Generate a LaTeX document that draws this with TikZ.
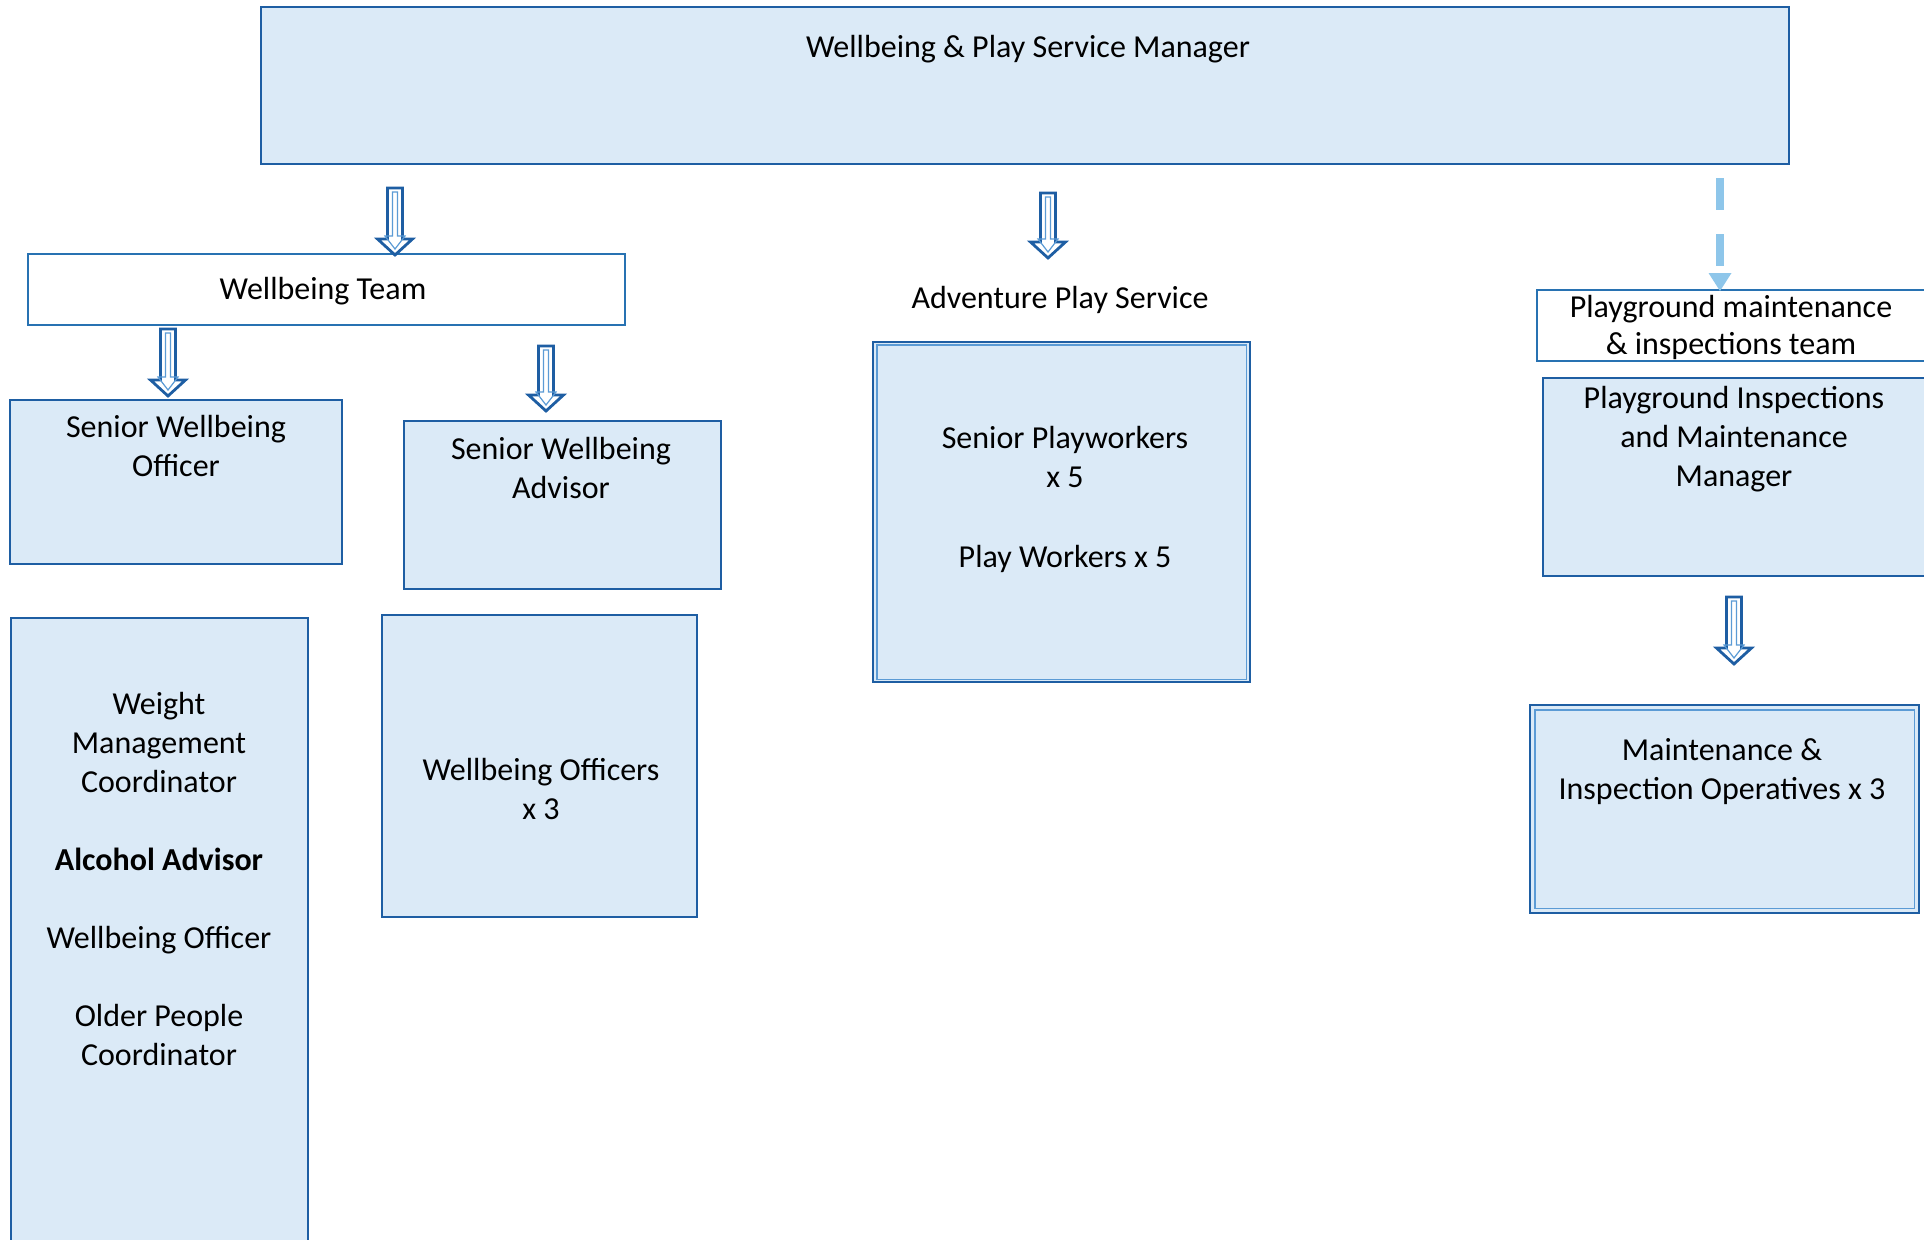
\documentclass[tikz,border=0pt]{standalone}
\usepackage{fontspec}
\setmainfont{Carlito}
\usetikzlibrary{calc}
\definecolor{boxfill}{RGB}{219,234,247}
\definecolor{dblue}{RGB}{30,94,163}
\definecolor{mblue}{RGB}{40,114,178}
\definecolor{lblue}{RGB}{91,155,213}
\definecolor{dashblue}{RGB}{142,198,234}
\begin{document}
\begin{tikzpicture}[x=1pt,y=-1pt,
  bx/.style={draw=dblue, fill=boxfill, line width=2.5pt, inner sep=0pt},
  wbx/.style={draw=mblue, fill=white, line width=2.5pt, inner sep=0pt},
  txt/.style={font=\fontsize{32}{39}\selectfont, align=center, inner sep=0pt, text=black},
  innerline/.style={draw=lblue, line width=1.5pt},
  blockarr/.style={draw=dblue, fill=white, line width=2.8pt, line join=miter,
    to path={let \p1=(\tikztostart), \p2=(\tikztotarget) in
      ({\x1-7.5pt},\y1) -- ({\x1+7.5pt},\y1) -- ({\x1+7.5pt},{\y2+16pt}) -- ({\x1+17.5pt},{\y2+16pt})
      -- (\x2,\y2) -- ({\x1-17.5pt},{\y2+16pt}) -- ({\x1-7.5pt},{\y2+16pt}) -- cycle}},
  blockin/.style={draw=lblue, line width=1.2pt, line join=miter,
    to path={let \p1=(\tikztostart), \p2=(\tikztotarget) in
      ({\x1-2.5pt},{\y1-4pt}) -- ({\x1+2.5pt},{\y1-4pt}) -- ({\x1+2.5pt},{\y2+19pt}) -- ({\x1+10pt},{\y2+19pt})
      -- (\x2,{\y2+6pt}) -- ({\x1-10pt},{\y2+19pt}) -- ({\x1-2.5pt},{\y2+19pt}) -- cycle}}]
\useasboundingbox (0,0) rectangle (1924,1239);
\clip (0,0) rectangle (1924,1239);

% boxes
\node[bx, minimum width=1528pt, minimum height=157pt] (mgr) at (1025,85.5) {};
\node[wbx, minimum width=597pt, minimum height=71pt] (wteam) at (326.5,289.5) {};
\node[bx, minimum width=332pt, minimum height=164pt] (swo) at (176,482) {};
\node[bx, minimum width=317pt, minimum height=168pt] (swa) at (562.5,505) {};
\node[bx, minimum width=315pt, minimum height=302pt] (wo) at (539.5,766) {};
\node[bx, minimum width=297pt, minimum height=642pt] (left) at (159.5,939) {};
\node[bx, minimum width=377pt, minimum height=340pt] (adv) at (1061.5,512) {};
\draw[innerline] ([shift={(5,4)}]adv.north west) rectangle ([shift={(-5,-4)}]adv.south east);
\node[wbx, minimum width=433pt, minimum height=71pt] (pteam) at (1753.5,325.5) {};
\node[bx, minimum width=427pt, minimum height=198pt] (pim) at (1756.5,477) {};
\node[bx, minimum width=389pt, minimum height=208pt] (mio) at (1724.5,809) {};
\draw[innerline] ([shift={(6,6)}]mio.north west) rectangle ([shift={(-6,-6)}]mio.south east);

% texts
\node[txt] (tmgr) at (1028,49) {Wellbeing \& Play Service Manager};
\node[txt] (twteam) at (323,291) {Wellbeing Team};
\node[txt] (tswo) at (176,446) {Senior Wellbeing\\Officer};
\node[txt] (tswa) at (561,468) {Senior Wellbeing\\Advisor};
\node[txt] (two) at (541,788.5) {Wellbeing Officers\\x 3};
\node[txt] (tleft) at (159,878.5) {Weight\\Management\\Coordinator\\[39pt]\textbf{Alcohol Advisor}\\[39pt]Wellbeing Officer\\[39pt]Older People\\Coordinator};
\node[txt] (taps) at (1060,300) {Adventure Play Service};
\node[txt] (tadv) at (1065,499.5) {Senior Playworkers\\x 5\\[41pt]Play Workers x 5};
\node[txt, font=\fontsize{32}{37}\selectfont] (tpteam) at (1731,327.5) {Playground maintenance\\\& inspections team};
\node[txt] (tpim) at (1734,439.5) {Playground Inspections\\and Maintenance\\Manager};
\node[txt] (tmio) at (1722,772) {Maintenance \&\\Inspection Operatives x 3};

% block arrows
\coordinate (a1s) at (395,188);  \coordinate (a1e) at (395,255);
\coordinate (a2s) at (168,329);  \coordinate (a2e) at (168,396);
\coordinate (a3s) at (546,346);  \coordinate (a3e) at (546,411);
\coordinate (a4s) at (1048,193); \coordinate (a4e) at (1048,258);
\coordinate (a5s) at (1734,597); \coordinate (a5e) at (1734,664);
\foreach \a in {a1,a2,a3,a4,a5}{
  \draw[blockarr] (\a s) to (\a e);
  \draw[blockin] (\a s) to (\a e);
}

% dashed arrow
\coordinate (ds) at (1720,178);
\coordinate (dh) at (1720,273);
\coordinate (dt) at (1720,291);
\draw[dashblue, line width=8pt, dash pattern=on 32pt off 24pt] (ds) -- (dh);
\fill[dashblue] ([xshift=-11.5pt]dh) -- ([xshift=11.5pt]dh) -- (dt) -- cycle;
\end{tikzpicture}
\end{document}
